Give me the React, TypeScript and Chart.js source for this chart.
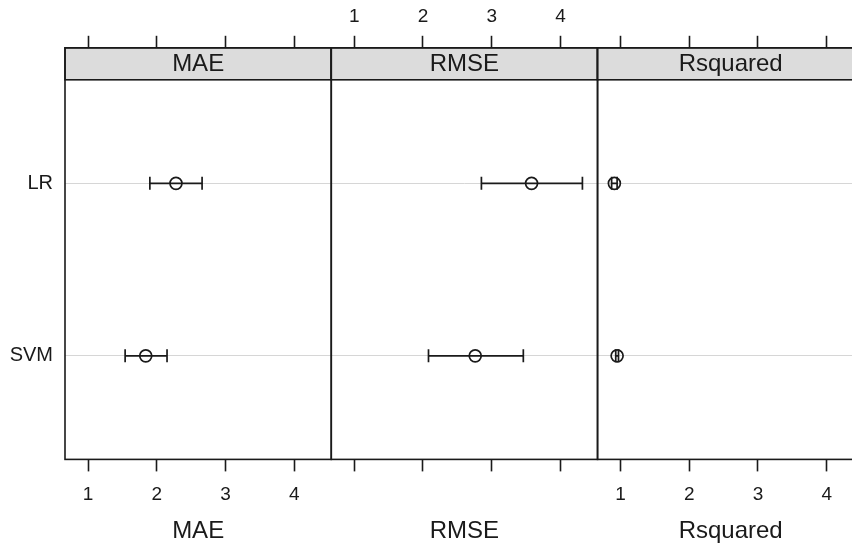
import React, { useEffect, useRef } from "react";
import { Chart, registerables } from "chart.js";

Chart.register(...registerables);

const models = ["LR", "SVM"];
const metrics = ["MAE", "RMSE", "Rsquared"];
const tickValues = [1, 2, 3, 4];
const xMin = 0.665;
const xMax = 4.54;

// per metric, per model: [mean, lower, upper]
const maeMean = [2.28, 1.84];
const maeLow = [1.9, 1.54];
const maeHigh = [2.66, 2.15];
const rmseMean = [3.58, 2.76];
const rmseLow = [2.85, 2.08];
const rmseHigh = [4.32, 3.46];
const rsqMean = [0.91, 0.95];
const rsqLow = [0.87, 0.93];
const rsqHigh = [0.95, 0.97];

const means = [maeMean, rmseMean, rsqMean];
const lows = [maeLow, rmseLow, rsqLow];
const highs = [maeHigh, rmseHigh, rsqHigh];

const FONT = "'Liberation Sans', Arial, sans-serif";
const INK = "#1a1a1a";
const STRIP_H = 32;

const yOf = (i: number) => models.length - i;

export default function App() {
  const ref = useRef<HTMLCanvasElement>(null);
  useEffect(() => {
    document.body.style.margin = "0";
    const datasets: any[] = [];
    metrics.forEach((m, p) => {
      datasets.push({
        type: "scatter",
        label: m + " mean",
        xAxisID: "x" + p,
        yAxisID: "y",
        data: models.map((_, i) => ({ x: means[p][i], y: yOf(i) })),
        pointStyle: "circle",
        pointRadius: 6,
        pointBackgroundColor: "rgba(255,255,255,0)",
        pointBorderColor: INK,
        pointBorderWidth: 1.7,
        order: 0,
      });
      models.forEach((mod, i) => {
        datasets.push({
          type: "line",
          label: m + " " + mod,
          xAxisID: "x" + p,
          yAxisID: "y",
          data: [
            { x: lows[p][i], y: yOf(i) },
            { x: highs[p][i], y: yOf(i) },
          ],
          borderColor: INK,
          borderWidth: 1.7,
          pointStyle: "line",
          rotation: 90,
          pointRadius: 6.5,
          pointBorderColor: INK,
          pointBorderWidth: 1.7,
          fill: false,
          order: 1,
        });
      });
    });

    const scales: any = {
      y: {
        type: "linear",
        position: "left",
        min: 0.4,
        max: models.length + 0.6,
        afterBuildTicks: (s: any) => {
          s.ticks = models.map((_, i) => ({ value: yOf(i) }));
        },
        afterFit: (s: any) => {
          s.width = 65;
        },
        ticks: {
          callback: (v: number) => models[models.length - v],
          color: INK,
          font: { family: FONT, size: 20 },
          padding: 12,
        },
        grid: { color: "#d6d6d6", lineWidth: 1, drawTicks: false },
        border: { display: false },
      },
    };
    metrics.forEach((m, p) => {
      scales["x" + p] = {
        type: "linear",
        position: "bottom",
        stack: "bottom",
        stackWeight: 1,
        min: xMin,
        max: xMax,
        afterBuildTicks: (s: any) => {
          s.ticks = tickValues.map((v) => ({ value: v }));
        },
        ticks: {
          autoSkip: false,
          maxRotation: 0,
          color: INK,
          font: { family: FONT, size: 19 },
          padding: 12,
          callback: (v: number) => (p % 2 === 0 ? String(v) : ""),
        },
        grid: {
          drawOnChartArea: false,
          drawTicks: true,
          tickLength: 12,
          tickWidth: 1.6,
          tickColor: INK,
        },
        border: { display: false },
        title: {
          display: true,
          text: m,
          color: INK,
          font: { family: FONT, size: 24 },
          padding: { top: -1, bottom: 0 },
        },
      };
      scales["t" + p] = {
        type: "linear",
        position: "top",
        stack: "top",
        stackWeight: 1,
        min: xMin,
        max: xMax,
        afterBuildTicks: (s: any) => {
          s.ticks = tickValues.map((v) => ({ value: v }));
        },
        ticks: {
          autoSkip: false,
          maxRotation: 0,
          color: INK,
          font: { family: FONT, size: 19 },
          padding: 8,
          callback: (v: number) => (p % 2 === 1 ? String(v) : ""),
        },
        grid: {
          drawOnChartArea: false,
          drawTicks: true,
          tickLength: 12 + STRIP_H,
          tickWidth: 1.6,
          tickColor: INK,
        },
        border: { display: false },
      };
    });

    const panelPlugin = {
      id: "panels",
      afterDraw(chart: any) {
        const ctx = chart.ctx;
        const area = chart.chartArea;
        ctx.save();
        metrics.forEach((m, p) => {
          const sc = chart.scales["x" + p];
          const l = sc.left;
          const r = sc.right;
          const top = area.top - STRIP_H;
          ctx.fillStyle = "#dcdcdc";
          ctx.fillRect(l, top, r - l, STRIP_H);
          ctx.strokeStyle = INK;
          ctx.lineWidth = 1.6;
          ctx.strokeRect(l, top, r - l, STRIP_H);
          ctx.strokeRect(l, top, r - l, area.bottom - top);
          ctx.fillStyle = INK;
          ctx.font = "24px " + FONT;
          ctx.textAlign = "center";
          ctx.textBaseline = "middle";
          ctx.fillText(m, (l + r) / 2, top + STRIP_H / 2 + 1);
        });
        ctx.restore();
      },
    };

    const chart = new Chart(ref.current!, {
      type: "scatter",
      data: { datasets },
      options: {
        animation: false,
        responsive: false,
        maintainAspectRatio: false,
        layout: { padding: { top: -3, right: 0, bottom: 1, left: 0 } },
        plugins: { legend: { display: false }, tooltip: { enabled: false } },
        scales,
      },
      plugins: [panelPlugin],
    });
    return () => chart.destroy();
  }, []);

  return (
    <div style={{ position: "absolute", left: 0, top: 0, width: 852, height: 547, overflow: "hidden", background: "#fff" }}>
      <canvas ref={ref} width={872} height={547} style={{ display: "block" }} />
    </div>
  );
}
